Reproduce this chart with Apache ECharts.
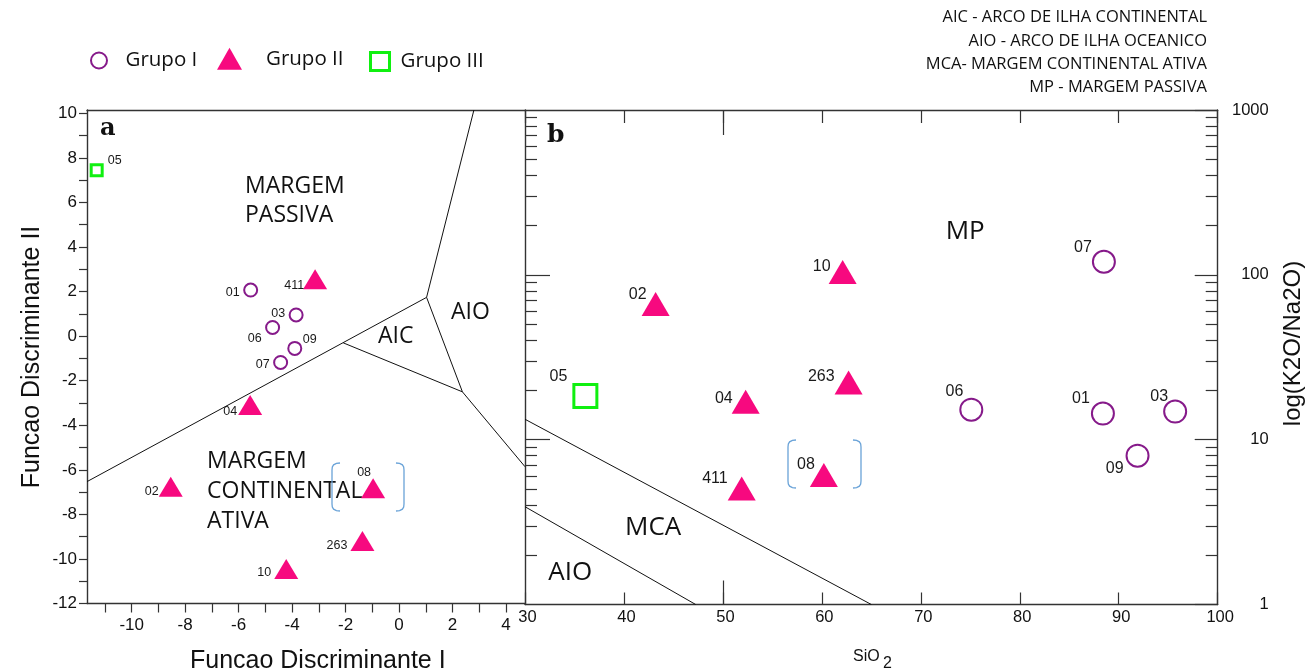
<!DOCTYPE html>
<html><head><meta charset="utf-8">
<script src="https://cdn.jsdelivr.net/npm/echarts@6/dist/echarts.min.js"></script>
<style>html,body{margin:0;padding:0;background:#fff}#c{width:1316px;height:672px}</style>
</head><body><div id="c"></div>
<script>
// ---------------- DATA ----------------
// Grupo I (circles)
const groupI_samples = ['01', '03', '06', '07', '09'];
const groupI_fd1 = [-5.55, -3.85, -4.73, -4.43, -3.90];
const groupI_fd2 = [2.07, 0.95, 0.39, -1.18, -0.55];
const groupI_sio2 = [88.4, 95.7, 75.1, 88.5, 91.9];
const groupI_ratio = [14.4, 14.8, 15.2, 120, 8.0];
// Grupo II (triangles)
const groupII_samples = ['02', '04', '08', '10', '263', '411'];
const groupII_fd1 = [-8.54, -5.57, -0.97, -4.22, -1.37, -3.14];
const groupII_fd2 = [-6.76, -3.09, -6.83, -10.45, -9.20, 2.55];
const groupII_sio2 = [43.2, 52.3, 60.2, 62.1, 62.7, 51.9];
const groupII_ratio = [66.6, 17.0, 6.1, 104, 22.2, 5.05];
// Grupo III (square)
const groupIII_samples = ['05'];
const groupIII_fd1 = [-11.31];
const groupIII_fd2 = [7.45];
const groupIII_sio2 = [36.1];
const groupIII_ratio = [18.4];

// field boundaries, diagram a (FD1, FD2)
const fdLineMain = [[-11.672, -6.53], [1.03, 1.74]];
const fdLineAicBase = [[-2.09, -0.30], [2.37, -2.50]];
const fdLineTop = [[1.03, 1.74], [2.80, 10.15]];
const fdLineAioLeft = [[1.03, 1.74], [2.37, -2.50]];
const fdLineRight = [[2.37, -2.50], [4.711, -5.86]];
// field boundaries, diagram b (SiO2, K2O/Na2O)
const rkLineUpper = [[30, 13.3], [65.0, 1]];
const rkLineLower = [[30, 3.92], [47.25, 1]];

// tick values
const fdXTicks = [-11, -10, -9, -8, -7, -6, -5, -4, -3, -2, -1, 0, 1, 2, 3, 4];
const fdXLabels = [-10, -8, -6, -4, -2, 0, 2, 4];
const fdYTicks = [-12, -11, -10, -9, -8, -7, -6, -5, -4, -3, -2, -1, 0, 1, 2, 3, 4, 5, 6, 7, 8, 9, 10];
const fdYLabels = [-12, -10, -8, -6, -4, -2, 0, 2, 4, 6, 8, 10];
const logMinorValues = [2, 3, 4, 5, 6, 7, 8, 9, 20, 30, 40, 50, 60, 70, 80, 90, 200, 300, 400, 500, 600, 700, 800, 900];
const logMajorInner = [10, 100];

// ---------------- STYLE ----------------
const PURPLE = '#861a8a', PINK = '#f7097f', GREEN = '#10f010', AXIS = '#333', BLUE = '#6aa3d8';
const SANS = '"Liberation Sans", Arial, sans-serif';
const MYR = '"Open Sans", sans-serif';
// label placement per sample: [align, dx, dy]
const labelPosA = {
  '05': ['left', 11, -10], '01': ['right', -11, 3], '411': ['right', -11, 6], '03': ['right', -11, -1],
  '06': ['right', -11, 11], '09': ['left', 8, -9], '07': ['right', -11, 2], '04': ['right', -13, 7],
  '02': ['right', -12, 5], '08': ['center', -9, -16], '263': ['right', -15, 4], '10': ['right', -15, 4]
};
const labelPosB = {
  '05': ['right', -18, -19], '02': ['right', -9, -9], '10': ['right', -12, -5], '263': ['right', -14, -6],
  '04': ['right', -13, -3], '411': ['right', -14, -10], '08': ['right', -9, -10], '07': ['right', -12, -14],
  '06': ['right', -8, -18], '01': ['right', -13, -15], '03': ['right', -7, -15], '09': ['right', -14, 13]
};

function points(samples, xs, ys, pos, fontSize) {
  return samples.map((s, i) => {
    const p = pos[s];
    return {
      name: s, value: [xs[i], ys[i]],
      label: { show: true, position: 'inside', formatter: s, align: p[0], verticalAlign: 'middle',
        offset: [p[1], p[2]], fontSize: fontSize, fontFamily: SANS, color: '#1a1a1a' }
    };
  });
}
function lineSeries(data, xi, yi) {
  return { type: 'line', xAxisIndex: xi, yAxisIndex: yi, data: data, symbol: 'none', silent: true,
    lineStyle: { color: '#111', width: 1 }, z: 1, animation: false };
}
const axLine = { show: true, onZero: false, lineStyle: { color: AXIS, width: 1.4 } };
const tickLine = { color: AXIS, width: 1.2 };

const chart = echarts.init(document.getElementById('c'), null, { renderer: 'canvas' });
const log10 = v => Math.log10(v);

function txt(x, y, text, font, align) {
  const a = align || 'left';
  return { type: 'text', x: x, y: y, silent: true,
    style: { text: text, font: font, fill: '#111', align: a, verticalAlign: 'middle', textAlign: a, textVerticalAlign: 'middle' } };
}
function bracket(x, y0, y1, dir) {
  const w = 8 * dir;
  const pts = [[x + w, y0], [x + w * 0.55, y0 + 0.4], [x + w * 0.2, y0 + 1.8], [x + w * 0.04, y0 + 4], [x, y0 + 7],
    [x, y1 - 7], [x + w * 0.04, y1 - 4], [x + w * 0.2, y1 - 1.8], [x + w * 0.55, y1 - 0.4], [x + w, y1]];
  return { type: 'polyline', silent: true, shape: { points: pts },
    style: { fill: null, stroke: BLUE, lineWidth: 1.3 } };
}

const option = {
  animation: false,
  backgroundColor: '#fff',
  grid: [
    { left: 87, top: 110, width: 438, height: 493.5 },
    { left: 525, top: 110, width: 692.7, height: 494.5 }
  ],
  legend: [
    { left: 90, top: 50, padding: 0, itemWidth: 43, itemHeight: 16, selectedMode: false,
      textStyle: { fontFamily: MYR, fontSize: 20.5, color: '#111' },
      data: [{ name: 'Grupo I', icon: 'circle', itemStyle: { color: '#fff', borderColor: PURPLE, borderWidth: 2 } }] },
    { left: 217, top: 47.8, padding: 0, itemWidth: 25, itemHeight: 22, selectedMode: false,
      textStyle: { fontFamily: MYR, fontSize: 20.5, color: '#111', padding: [0, 0, 0, 19] },
      data: [{ name: 'Grupo II', icon: 'triangle', itemStyle: { color: PINK, borderWidth: 0 } }] },
    { left: 369, top: 51, padding: 0, itemWidth: 19, itemHeight: 18, selectedMode: false,
      textStyle: { fontFamily: MYR, fontSize: 20.5, color: '#111', padding: [0, 0, 0, 6] },
      data: [{ name: 'Grupo III', icon: 'rect', itemStyle: { color: '#fff', borderColor: GREEN, borderWidth: 3 } }] }
  ],
  xAxis: [
    { gridIndex: 0, type: 'value', position: 'bottom', min: -11.672, max: 4.711,
      axisLine: axLine, splitLine: { show: false },
      axisTick: { show: true, customValues: fdXTicks, length: 9, lineStyle: tickLine },
      axisLabel: { customValues: fdXLabels, margin: 13, fontSize: 17, fontFamily: SANS, color: '#111' } },
    { gridIndex: 0, type: 'value', position: 'top', min: -11.672, max: 4.711,
      axisLine: axLine, splitLine: { show: false }, axisTick: { show: false }, axisLabel: { show: false } },
    { gridIndex: 1, type: 'value', position: 'bottom', min: 30, max: 100, interval: 10,
      axisLine: axLine, splitLine: { show: false },
      axisTick: { show: true, inside: true, length: 12, lineStyle: tickLine },
      axisLabel: { margin: 4, fontSize: 16.5, fontFamily: SANS, color: '#111', padding: [0, 0, 0, 5] } },
    { gridIndex: 1, type: 'value', position: 'top', min: 30, max: 100, interval: 10,
      axisLine: axLine, splitLine: { show: false },
      axisTick: { show: true, inside: true, length: 13, lineStyle: tickLine }, axisLabel: { show: false } },
    { gridIndex: 1, type: 'value', position: 'bottom', min: 30, max: 100,
      axisLine: { show: false, onZero: false }, splitLine: { show: false },
      axisTick: { show: true, inside: true, length: 24, customValues: [50], lineStyle: tickLine }, axisLabel: { show: false } },
    { gridIndex: 1, type: 'value', position: 'top', min: 30, max: 100,
      axisLine: { show: false, onZero: false }, splitLine: { show: false },
      axisTick: { show: true, inside: true, length: 25, customValues: [50], lineStyle: tickLine }, axisLabel: { show: false } }
  ],
  yAxis: [
    { gridIndex: 0, type: 'value', position: 'left', min: -12, max: 10.15,
      axisLine: axLine, splitLine: { show: false },
      axisTick: { show: true, customValues: fdYTicks, length: 8, lineStyle: tickLine },
      axisLabel: { customValues: fdYLabels, margin: 10, fontSize: 17, fontFamily: SANS, color: '#111' } },
    { gridIndex: 1, type: 'log', logBase: 10, position: 'right', min: 1, max: 1000,
      axisLine: axLine, splitLine: { show: false },
      axisTick: { show: true, inside: true, length: 23, lineStyle: tickLine },
      axisLabel: { align: 'right', margin: 51, fontSize: 16.5, fontFamily: SANS, color: '#111',
        formatter: v => String(Math.round(v)) } },
    { gridIndex: 1, type: 'value', position: 'right', min: 0, max: 3,
      axisLine: { show: false, onZero: false }, splitLine: { show: false },
      axisTick: { show: true, inside: true, length: 12, customValues: logMinorValues.map(log10), lineStyle: tickLine },
      axisLabel: { show: false } },
    { gridIndex: 1, type: 'value', position: 'left', min: 0, max: 3,
      axisLine: axLine, splitLine: { show: false },
      axisTick: { show: true, inside: true, length: 12, customValues: logMinorValues.map(log10), lineStyle: tickLine },
      axisLabel: { show: false } },
    { gridIndex: 1, type: 'value', position: 'left', min: 0, max: 3,
      axisLine: { show: false, onZero: false }, splitLine: { show: false },
      axisTick: { show: true, inside: true, length: 25, customValues: logMajorInner.map(log10), lineStyle: tickLine },
      axisLabel: { show: false } }
  ],
  series: [
    lineSeries(fdLineMain, 0, 0), lineSeries(fdLineAicBase, 0, 0), lineSeries(fdLineTop, 0, 0),
    lineSeries(fdLineAioLeft, 0, 0), lineSeries(fdLineRight, 0, 0),
    lineSeries(rkLineUpper, 2, 1), lineSeries(rkLineLower, 2, 1),
    { name: 'Grupo I', type: 'scatter', xAxisIndex: 0, yAxisIndex: 0, symbol: 'circle', symbolSize: 13, z: 3,
      itemStyle: { color: '#fff', borderColor: PURPLE, borderWidth: 2, opacity: 1 },
      data: points(groupI_samples, groupI_fd1, groupI_fd2, labelPosA, 12.5) },
    { name: 'Grupo II', type: 'scatter', xAxisIndex: 0, yAxisIndex: 0, symbol: 'triangle', symbolSize: [24, 20], z: 3,
      itemStyle: { color: PINK, opacity: 1 },
      data: points(groupII_samples, groupII_fd1, groupII_fd2, labelPosA, 12.5) },
    { name: 'Grupo III', type: 'scatter', xAxisIndex: 0, yAxisIndex: 0, symbol: 'rect', symbolSize: 11, z: 3,
      itemStyle: { color: '#fff', borderColor: GREEN, borderWidth: 3, opacity: 1 },
      data: points(groupIII_samples, groupIII_fd1, groupIII_fd2, labelPosA, 12.5) },
    { name: 'Grupo I', type: 'scatter', xAxisIndex: 2, yAxisIndex: 1, symbol: 'circle', symbolSize: 22, z: 3,
      itemStyle: { color: '#fff', borderColor: PURPLE, borderWidth: 2, opacity: 1 },
      data: points(groupI_samples, groupI_sio2, groupI_ratio, labelPosB, 16) },
    { name: 'Grupo II', type: 'scatter', xAxisIndex: 2, yAxisIndex: 1, symbol: 'triangle', symbolSize: [28, 24], z: 3,
      itemStyle: { color: PINK, opacity: 1 },
      data: points(groupII_samples, groupII_sio2, groupII_ratio, labelPosB, 16) },
    { name: 'Grupo III', type: 'scatter', xAxisIndex: 2, yAxisIndex: 1, symbol: 'rect', symbolSize: 23, z: 3,
      itemStyle: { color: '#fff', borderColor: GREEN, borderWidth: 3, opacity: 1 },
      data: points(groupIII_samples, groupIII_sio2, groupIII_ratio, labelPosB, 16) }
  ],
  graphic: [
    txt(100, 129, 'a', 'bold 24px "DejaVu Serif", serif'),
    txt(547, 135, 'b', 'bold 25px "DejaVu Serif", serif'),
    txt(245, 186, 'MARGEM', '23px ' + MYR), txt(245, 215, 'PASSIVA', '23px ' + MYR),
    txt(207, 461, 'MARGEM', '23px ' + MYR), txt(207, 491.5, 'CONTINENTAL', '23px ' + MYR), txt(207, 521.5, 'ATIVA', '23px ' + MYR),
    txt(378, 336, 'AIC', '23px ' + MYR), txt(451, 312, 'AIO', '23px ' + MYR),
    txt(945.7, 231.5, 'MP', '26px ' + MYR), txt(625, 528, 'MCA', '26px ' + MYR), txt(548.3, 572.5, 'AIO', '26px ' + MYR),
    bracket(332, 463, 511, 1), bracket(404, 463, 511, -1),
    bracket(788, 440, 488, 1), bracket(861, 440, 488, -1),
    txt(317.8, 661, 'Funcao Discriminante I', '25px ' + SANS, 'center'),
    { type: 'text', x: 32, y: 357, rotation: Math.PI / 2, silent: true,
      style: { text: 'Funcao Discriminante II', font: '25px ' + SANS, fill: '#111', align: 'center', verticalAlign: 'middle', textAlign: 'center', textVerticalAlign: 'middle' } },
    { type: 'text', x: 1293, y: 343.5, rotation: Math.PI / 2, silent: true,
      style: { text: 'log(K2O/Na2O)', font: '24px ' + SANS, fill: '#111', align: 'center', verticalAlign: 'middle', textAlign: 'center', textVerticalAlign: 'middle' } },
    txt(853, 657, 'SiO', '16px ' + SANS), txt(883, 663.5, '2', '16px ' + SANS),
    txt(1207, 17.5, 'AIC - ARCO DE ILHA CONTINENTAL', '16.5px ' + MYR, 'right'),
    txt(1207, 40.9, 'AIO - ARCO DE ILHA OCEANICO', '16.5px ' + MYR, 'right'),
    txt(1207, 64.3, 'MCA- MARGEM CONTINENTAL ATIVA', '16.5px ' + MYR, 'right'),
    txt(1207, 87.7, 'MP - MARGEM PASSIVA', '16.5px ' + MYR, 'right')
  ]
};
chart.setOption(option);
</script>
</body></html>
